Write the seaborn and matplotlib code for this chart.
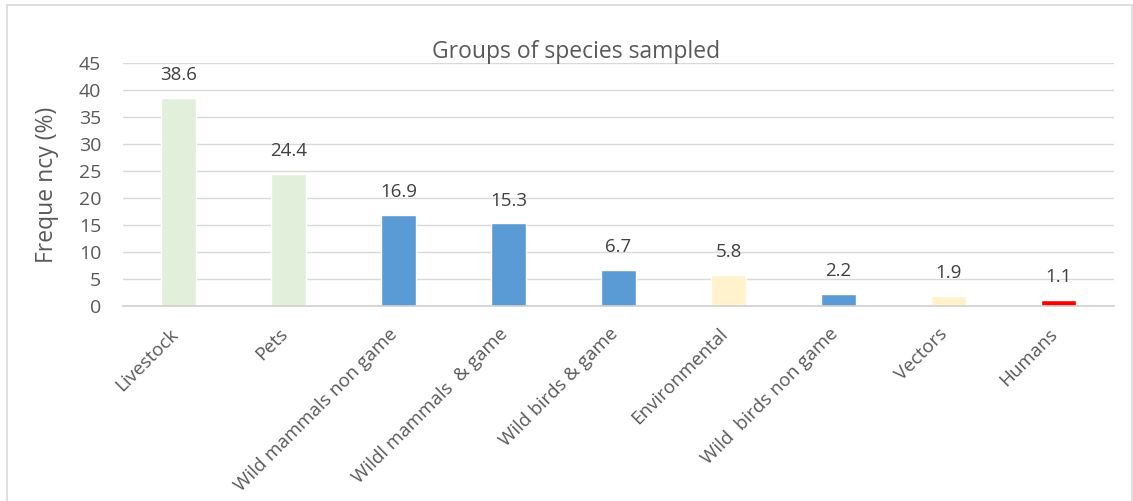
import matplotlib
matplotlib.use("Agg")
import matplotlib.pyplot as plt
import matplotlib.transforms as mtransforms
import seaborn as sns
import pandas as pd
from matplotlib.patches import Rectangle

categories = ["Livestock", "Pets", "Wild mammals non game", "Wildl mammals  & game",
              "Wild birds & game", "Environmental", "Wild  birds non game", "Vectors", "Humans"]
values = [38.6, 24.4, 16.9, 15.3, 6.7, 5.8, 2.2, 1.9, 1.1]
colors = ["#E2EFDA", "#E2EFDA", "#5B9BD5", "#5B9BD5", "#5B9BD5", "#FFF2CC", "#5B9BD5", "#FFF2CC", "#FF0000"]
yticks = [0, 5, 10, 15, 20, 25, 30, 35, 40, 45]

sns.set_theme(style="white")
plt.rcParams['font.family'] = ['Open Sans', 'DejaVu Sans']
txt = "#595959"

df = pd.DataFrame({"cat": categories, "val": values})
fig = plt.figure(figsize=(11.33, 5.01), dpi=100)
ax = fig.add_axes([0.109, 0.389, 0.874, 0.485])
sns.barplot(data=df, x="cat", y="val", hue="cat", palette=colors, width=0.32,
            legend=False, ax=ax, saturation=1)
ax.set_ylim(0, 45)
ax.set_yticks(yticks)
ax.set_xlim(-0.5, len(categories) - 0.5)
ax.grid(axis="y", color="#D9D9D9", linewidth=1)
ax.set_axisbelow(True)
for s in ["top", "right", "left"]:
    ax.spines[s].set_visible(False)
ax.spines["bottom"].set_color("#D0D0D0")
ax.spines["bottom"].set_linewidth(1.2)
ax.tick_params(axis="both", length=0, colors=txt, labelsize=14)
ax.tick_params(axis="y", pad=16)
ax.set_xlabel("")
ax.set_ylabel("Freque ncy (%)", fontsize=16.5, color=txt, labelpad=14)
ax.set_xticks(range(len(categories)))
ax.set_xticklabels(categories, rotation=45, ha="right", rotation_mode="anchor", fontsize=13.5)
off = mtransforms.ScaledTranslation(-10 / 100, -14 / 100, fig.dpi_scale_trans)
for lbl in ax.get_xticklabels():
    lbl.set_color(txt)
    lbl.set_transform(lbl.get_transform() + off)
for c in ax.containers:
    ax.bar_label(c, fmt="%.1f", padding=10, fontsize=13.5, color="#404040")
fig.text(0.508, 0.897, "Groups of species sampled", ha="center", va="center", fontsize=16.5, color=txt)
fig.patches.append(Rectangle((0.006, -0.01), 0.993, 1.0, transform=fig.transFigure,
                             fill=False, edgecolor="#D9D9D9", linewidth=1.2))
fig.savefig("out.png", dpi=100)
